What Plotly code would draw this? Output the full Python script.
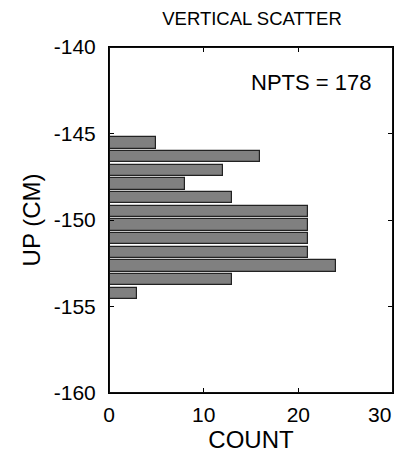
import plotly.graph_objects as go

# Data
bin_centers = [-145.55, -146.34, -147.13, -147.92, -148.71, -149.50,
               -150.29, -151.08, -151.87, -152.66, -153.45, -154.24]
counts = [5, 16, 12, 8, 13, 21, 21, 21, 21, 24, 13, 3]
x_ticks = [0, 10, 20, 30]
x_tick_text = ["0", "10", "20", ""]   # last label drawn as an annotation, right-aligned
y_ticks = [-160, -155, -150, -145, -140]
y_tick_text = ["-160", "-155", "-150", "-145", "-140"]
npts = sum(counts)

FONT = "Liberation Sans, Arial, Helvetica, sans-serif"

fig = go.Figure()
fig.add_trace(go.Bar(
    x=counts, y=bin_centers, orientation="h", width=0.64,
    marker=dict(color="#808080", line=dict(color="#222222", width=1.2)),
    showlegend=False,
))

fig.update_layout(
    width=401, height=454,
    margin=dict(l=109, r=8, t=47, b=61),
    paper_bgcolor="white", plot_bgcolor="white",
    font=dict(family=FONT, color="black"),
    title=dict(text="VERTICAL SCATTER", font=dict(size=18.5, family=FONT, color="black"),
               x=252/401, xanchor="center", xref="container",
               y=1 - 18.5/454, yanchor="middle", yref="container"),
    annotations=[
        dict(text=f"NPTS = {npts}", xref="paper", yref="paper",
             x=0.713, y=0.896, xanchor="center", yanchor="middle",
             showarrow=False, font=dict(size=22, family=FONT, color="black")),
        dict(text=str(x_ticks[-1]), xref="x", yref="paper",
             x=x_ticks[-1], y=0, xanchor="right", yanchor="middle",
             xshift=0, yshift=-21, showarrow=False,
             font=dict(size=21, family=FONT, color="black")),
    ],
    shapes=[
        dict(type="rect", xref="x", yref="y", x0=x_ticks[0], x1=x_ticks[-1],
             y0=y_ticks[0], y1=y_ticks[-1],
             line=dict(color="#111111", width=2), fillcolor="rgba(0,0,0,0)", layer="above"),
    ],
    bargap=0,
)
fig.update_xaxes(
    range=[0, 30], tickvals=x_ticks, ticktext=x_tick_text, ticks="inside", ticklen=5, tickwidth=1,
    tickcolor="black", showline=True, linecolor="black", linewidth=1, mirror="ticks",
    showgrid=False, zeroline=False, tickfont=dict(size=21), ticklabelstandoff=3,
    title=dict(text="COUNT", font=dict(size=24), standoff=2),
)
fig.update_yaxes(
    range=[-160, -140], tickvals=y_ticks, ticktext=y_tick_text, ticks="inside", ticklen=5, tickwidth=1,
    tickcolor="black", showline=True, linecolor="black", linewidth=1, mirror="ticks",
    showgrid=False, zeroline=False, tickfont=dict(size=21), ticklabelstandoff=8,
    title=dict(text="UP (CM)", font=dict(size=24), standoff=6),
)

fig.write_html("out.html", config={"displayModeBar": False},
               post_script="document.body.style.margin='0';document.body.style.overflow='hidden';")
